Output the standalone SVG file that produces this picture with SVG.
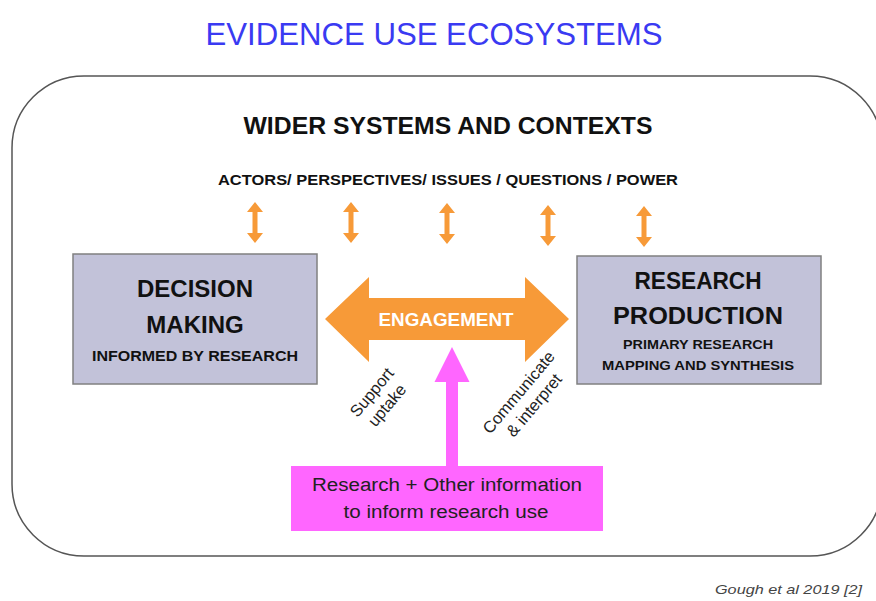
<svg xmlns="http://www.w3.org/2000/svg" width="876" height="601" viewBox="0 0 876 601">
<style>
  text { font-family: "Liberation Sans", Arial, sans-serif; }
  .b { font-weight: bold; fill: #111; }
  .box { fill: #c2c2d9; stroke: #808080; stroke-width: 1.5; }
  .orange { fill: #f79a38; }
  .mag { fill: #ff66ff; }
  .rot { font-size: 16.5px; fill: #222; }
</style>
<defs>
  <path id="vdbl" d="M0,0 L8,10 L2.5,10 L2.5,31 L8,31 L0,41 L-8,31 L-2.5,31 L-2.5,10 L-8,10 Z"/>
</defs>
<rect width="876" height="601" fill="#fff"/>
<text x="434" y="45" text-anchor="middle" font-size="31" fill="#3a3af2" textLength="457" lengthAdjust="spacingAndGlyphs">EVIDENCE USE ECOSYSTEMS</text>

<g id="context">
  <rect x="12" y="76" width="870" height="480" rx="72" ry="72" fill="none" stroke="#555" stroke-width="1.5"/>
  <text class="b" x="448" y="134" text-anchor="middle" font-size="23" textLength="409" lengthAdjust="spacingAndGlyphs">WIDER SYSTEMS AND CONTEXTS</text>
  <text class="b" x="448" y="185" text-anchor="middle" font-size="15" textLength="460" lengthAdjust="spacingAndGlyphs">ACTORS/ PERSPECTIVES/ ISSUES / QUESTIONS / POWER</text>
</g>

<g id="connectors">
  <use href="#vdbl" class="orange" x="255" y="202"/>
  <use href="#vdbl" class="orange" x="351" y="202"/>
  <use href="#vdbl" class="orange" x="447" y="203"/>
  <use href="#vdbl" class="orange" x="548" y="205"/>
  <use href="#vdbl" class="orange" x="644" y="206"/>
  <path class="mag" d="M452,347 L469.5,382 L458,382 L458,466 L446,466 L446,382 L434.5,382 Z"/>
</g>

<g id="decision">
  <rect class="box" x="73" y="254" width="244" height="130"/>
  <text class="b" x="195" y="297" text-anchor="middle" font-size="24">DECISION</text>
  <text class="b" x="195" y="333" text-anchor="middle" font-size="24">MAKING</text>
  <text class="b" x="195" y="361" text-anchor="middle" font-size="14" textLength="206" lengthAdjust="spacingAndGlyphs" fill="#222">INFORMED BY RESEARCH</text>
</g>

<g id="research">
  <rect class="box" x="577" y="256" width="244" height="128"/>
  <text class="b" x="698" y="289" text-anchor="middle" font-size="24" textLength="127" lengthAdjust="spacingAndGlyphs">RESEARCH</text>
  <text class="b" x="698" y="324" text-anchor="middle" font-size="24" textLength="170" lengthAdjust="spacingAndGlyphs">PRODUCTION</text>
  <text class="b" x="698" y="349" text-anchor="middle" font-size="13" textLength="150" lengthAdjust="spacingAndGlyphs" fill="#222">PRIMARY RESEARCH</text>
  <text class="b" x="698" y="370" text-anchor="middle" font-size="13" textLength="192" lengthAdjust="spacingAndGlyphs" fill="#222">MAPPING AND SYNTHESIS</text>
</g>

<g id="engagement">
  <path class="orange" d="M325,319 L369,277 L369,298 L525,298 L525,277 L569,319 L525,362 L525,340 L369,340 L369,362 Z"/>
  <text x="446" y="326" text-anchor="middle" font-size="18" font-weight="bold" fill="#fff" textLength="135" lengthAdjust="spacingAndGlyphs">ENGAGEMENT</text>
</g>

<g id="support-uptake" transform="translate(376,396) rotate(-50)">
  <text class="rot" x="0" y="0" text-anchor="middle">Support</text>
  <text class="rot" x="0" y="20" text-anchor="middle">uptake</text>
</g>

<g id="communicate" transform="translate(523,396) rotate(-50)">
  <text class="rot" x="0" y="0" text-anchor="middle">Communicate</text>
  <text class="rot" x="0" y="20" text-anchor="middle">&amp; interpret</text>
</g>

<g id="info">
  <rect class="mag" x="291" y="466" width="312" height="65"/>
  <text x="447" y="491" text-anchor="middle" font-size="18" fill="#222" textLength="270" lengthAdjust="spacingAndGlyphs">Research + Other information</text>
  <text x="446" y="518" text-anchor="middle" font-size="18" fill="#222" textLength="205" lengthAdjust="spacingAndGlyphs">to inform research use</text>
</g>

<text x="862" y="594" text-anchor="end" font-size="13" font-style="italic" fill="#444" textLength="147" lengthAdjust="spacingAndGlyphs">Gough et al 2019 [2]</text>
</svg>
